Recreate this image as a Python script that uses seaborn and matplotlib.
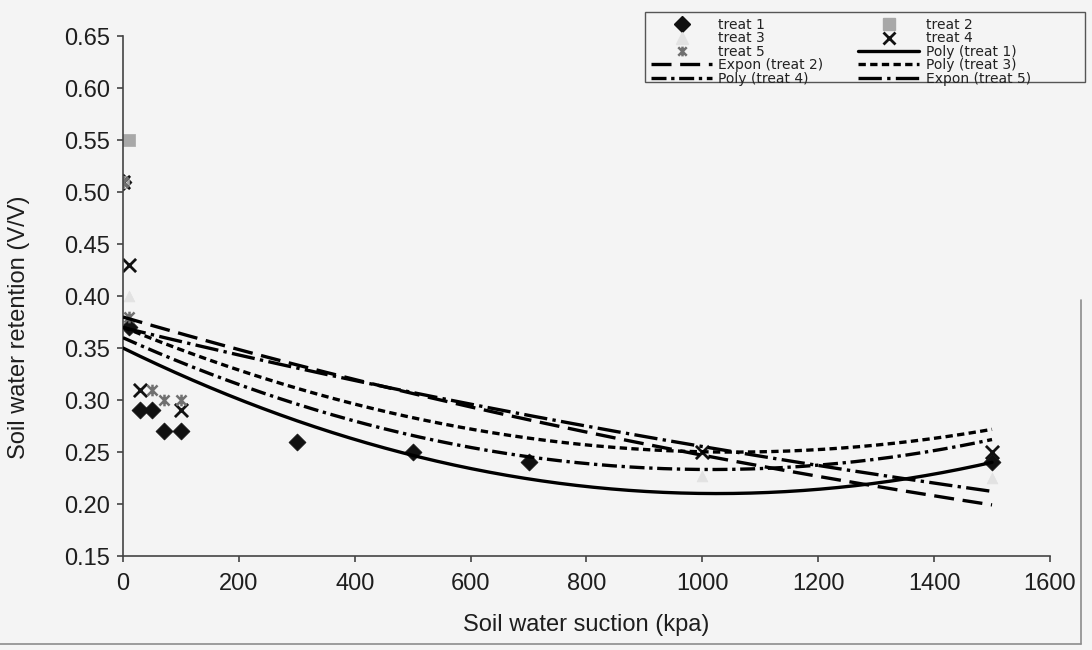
import numpy as np
import pandas as pd
import matplotlib
matplotlib.use("Agg")
import matplotlib.pyplot as plt
from matplotlib.lines import Line2D
from matplotlib.patches import Rectangle
from matplotlib.path import Path
import seaborn as sns

nan = np.nan

# Measured retention at each suction step (V/V)
suction_kpa = [0, 10, 30, 50, 70, 100, 300, 500, 700, 1000, 1500]
treat_1 = [0.51, 0.37, 0.29, 0.29, 0.27, 0.27, 0.26, 0.25, 0.24, nan, 0.24]
treat_2 = [0.51, 0.55, nan, nan, nan, nan, nan, nan, nan, nan, nan]
treat_3 = [0.51, 0.40, nan, nan, nan, nan, nan, nan, nan, 0.227, 0.225]
treat_4 = [0.51, 0.43, 0.31, nan, nan, 0.29, nan, nan, nan, 0.25, 0.25]
treat_5 = [0.51, 0.38, nan, 0.31, 0.30, 0.30, nan, nan, nan, nan, nan]

# Trendline readings along the suction range
trend_x = [0, 250, 500, 750, 1000, 1250, 1500]
poly_treat_1 = [0.350, 0.290, 0.247, 0.220, 0.210, 0.217, 0.240]
expon_treat_2 = [0.380, 0.341, 0.306, 0.275, 0.247, 0.222, 0.199]
poly_treat_3 = [0.370, 0.320, 0.283, 0.260, 0.250, 0.254, 0.272]
poly_treat_4 = [0.360, 0.305, 0.266, 0.242, 0.233, 0.240, 0.262]
expon_treat_5 = [0.370, 0.336, 0.308, 0.280, 0.255, 0.233, 0.212]

x_ticks = [0, 200, 400, 600, 800, 1000, 1200, 1400, 1600]
y_ticks = [0.15, 0.20, 0.25, 0.30, 0.35, 0.40, 0.45, 0.50, 0.55, 0.60, 0.65]

sns.set_theme(style="ticks")
plt.rcParams["font.family"] = ["Liberation Sans", "DejaVu Sans"]

paper = "#f4f4f4"
W, H = 1092, 650
fig = plt.figure(figsize=(W / 100, H / 100), dpi=100, facecolor=paper)
ax = fig.add_axes([0.1126, 0.1446, 0.8489, 0.8])
ax.set_facecolor(paper)

# asterisk marker: an X crossed by a vertical stroke
asterisk = Path([(-1, -1), (1, 1), (-1, 1), (1, -1), (0, -1.15), (0, 1.15)],
                [Path.MOVETO, Path.LINETO] * 3)

series = {
    "treat 1": dict(vals=treat_1, marker="D", color="#111111", s=75, lw=0.5),
    "treat 2": dict(vals=treat_2, marker="s", color="#a8a8a8", s=70, lw=0.5),
    "treat 3": dict(vals=treat_3, marker="^", color="#e2e2e2", s=60, lw=0.5),
    "treat 4": dict(vals=treat_4, marker="x", color="#111111", s=90, lw=2.0),
    "treat 5": dict(vals=treat_5, marker=asterisk, color="#707070", s=70, lw=1.8),
}

for name, st in series.items():
    df = pd.DataFrame({"suction": suction_kpa, "retention": st["vals"]}).dropna()
    if st["marker"] == "x":
        sns.scatterplot(data=df, x="suction", y="retention", marker="x",
                        color=st["color"], s=st["s"], linewidth=st["lw"],
                        ax=ax, legend=False, zorder=2)
    else:
        sns.scatterplot(data=df, x="suction", y="retention", marker=st["marker"],
                        color=st["color"], edgecolor=st["color"], s=st["s"],
                        linewidth=st["lw"], ax=ax, legend=False, zorder=2)

# Trendlines: quadratic ("Poly") or exponential ("Expon") fits
trends = {
    "Poly (treat 1)": (poly_treat_1, "poly", ""),
    "Expon (treat 2)": (expon_treat_2, "expon", (6.0, 2.6)),
    "Poly (treat 3)": (poly_treat_3, "poly", (2.2, 1.3)),
    "Poly (treat 4)": (poly_treat_4, "poly", (4.5, 1.4, 1.0, 1.4)),
    "Expon (treat 5)": (expon_treat_5, "expon", (7.0, 1.6, 1.0, 1.6)),
}
grid = np.linspace(min(trend_x), max(trend_x), 300)
frames = []
for name, (vals, kind, _) in trends.items():
    if kind == "poly":
        coef = np.polyfit(trend_x, vals, 2)
        yv = np.polyval(coef, grid)
    else:
        b, ln_a = np.polyfit(trend_x, np.log(vals), 1)
        yv = np.exp(ln_a) * np.exp(b * grid)
    frames.append(pd.DataFrame({"suction": grid, "retention": yv, "trend": name}))
trend_df = pd.concat(frames, ignore_index=True)
dash_map = {name: d for name, (_, _, d) in trends.items()}
sns.lineplot(data=trend_df, x="suction", y="retention", style="trend",
             dashes=dash_map, color="#000000", linewidth=2.4, estimator=None,
             sort=False, legend=False, ax=ax, zorder=3)

ax.set_xlim(0, 1600)
ax.set_ylim(0.15, 0.65)
ax.set_xticks(x_ticks)
ax.set_yticks(y_ticks)
ax.set_yticklabels([f"{v:.2f}" for v in y_ticks])
for side in ("top", "right"):
    ax.spines[side].set_visible(False)
for side in ("left", "bottom"):
    ax.spines[side].set_color("#444444")
    ax.spines[side].set_linewidth(1.2)
ax.tick_params(axis="both", direction="out", length=4.5, width=1.2,
               color="#444444", labelsize=17, labelcolor="#1e1e1e")
ax.tick_params(axis="x", pad=8)
ax.tick_params(axis="y", pad=5)

ax.set_xlabel("Soil water suction (kpa)", fontsize=17, color="#1e1e1e")
ax.set_ylabel("Soil water retention (V/V)", fontsize=17, color="#1e1e1e")
ax.xaxis.set_label_coords(0.5, -0.112)
ax.yaxis.set_label_coords(-0.100, 0.44)

# Legend entries laid out row by row in two columns
def mk(name):
    st = series[name]
    if st["marker"] == "x":
        return Line2D([], [], linestyle="none", marker="x", color=st["color"],
                      markersize=8, markeredgewidth=2.0)
    if st["marker"] is asterisk:
        return Line2D([], [], linestyle="none", marker=asterisk, color=st["color"],
                      markersize=7, markeredgewidth=1.8, markerfacecolor="none")
    return Line2D([], [], linestyle="none", marker=st["marker"], color=st["color"],
                  markersize=8)

def ln(name):
    d = dash_map[name]
    h = Line2D([], [], color="#000000", linewidth=2.4)
    if d:
        h.set_dashes(d)
    return h

col1 = ["treat 1", "treat 3", "treat 5", "Expon (treat 2)", "Poly (treat 4)"]
col2 = ["treat 2", "treat 4", "Poly (treat 1)", "Poly (treat 3)", "Expon (treat 5)"]
names = col1 + col2
handles = [mk(n) if n in series else ln(n) for n in names]
leg = fig.legend(handles, names, ncol=2, loc="upper left",
                 bbox_to_anchor=(651 / W, 1 - 18 / H),
                 bbox_transform=fig.transFigure,
                 prop={"family": "DejaVu Sans", "size": 10},
                 handlelength=4.4, handletextpad=0.45,
                 labelspacing=-0.04, borderpad=0.0, borderaxespad=0.0,
                 columnspacing=2.5, frameon=False)
for t in leg.get_texts():
    t.set_color("#222222")

# Legend box outline
fig.add_artist(Rectangle((645 / W, 1 - 82 / H), 440 / W, 70 / H,
                         transform=fig.transFigure, fill=True, facecolor="none",
                         edgecolor="#555555", linewidth=1.0, zorder=5))

# Chart-area border along the right and bottom
fig.add_artist(Line2D([1081 / W, 1081 / W], [6 / H, 1 - 300 / H],
                      transform=fig.transFigure, color="#8c8c8c", linewidth=1.2))
fig.add_artist(Line2D([0.0, 1081 / W], [6 / H, 6 / H],
                      transform=fig.transFigure, color="#8c8c8c", linewidth=1.2))

fig.savefig("out.png", dpi=100, facecolor=paper)
